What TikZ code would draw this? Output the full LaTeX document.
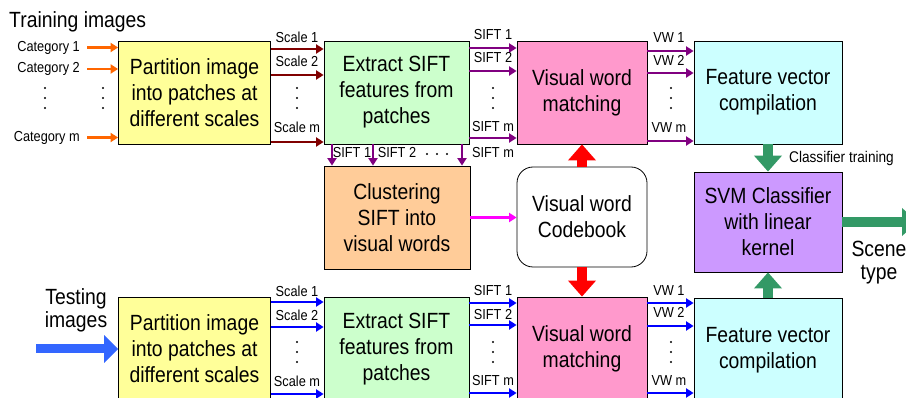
\documentclass[tikz,border=0pt]{standalone}
\usepackage{fontspec}
\setmainfont[FakeStretch=0.88]{Liberation Sans}
\usetikzlibrary{arrows.meta,calc}
\definecolor{cyel}{HTML}{FFFF99}
\definecolor{cgrn}{HTML}{CCFFCC}
\definecolor{cpnk}{HTML}{FF99CC}
\definecolor{ccyn}{HTML}{CCFFFF}
\definecolor{corg}{HTML}{FFCC99}
\definecolor{cvio}{HTML}{CC99FF}
\definecolor{aorg}{HTML}{FF6600}
\definecolor{ared}{HTML}{800000}
\definecolor{apur}{HTML}{800080}
\definecolor{amag}{HTML}{FF00FF}
\definecolor{agrn}{HTML}{339966}
\definecolor{ablu}{HTML}{0000FF}
\definecolor{ablut}{HTML}{3366FF}
\tikzset{
  box/.style={draw=black, line width=0.8pt, inner sep=0pt, align=center,
    font=\fontsize{22}{26}\selectfont},
  thinarr/.style={line width=2.8pt, -{Triangle[length=7.5pt,width=9pt]}},
  fatarr/.style={line width=10pt, -{Triangle[length=16pt,width=27pt]}},
  lab/.style={font=\fontsize{14.5}{15}\selectfont, inner sep=0pt},
  biglab/.style={font=\fontsize{22}{24}\selectfont, inner sep=0pt, align=center},
}
\begin{document}
\begin{tikzpicture}[x=1pt,y=-1pt]
\useasboundingbox (0,0) rectangle (906,398);
% ---- boxes
\node[box, fill=cyel, minimum width=152pt, minimum height=103pt] (yel1) at (194.5,92.5) {Partition image\\into patches at\\different scales};
\node[box, fill=cgrn, minimum width=145pt, minimum height=103pt] (grn1) at (396.5,92.5) {Extract SIFT\\features from\\patches};
\node[box, fill=cpnk, minimum width=130pt, minimum height=103pt] (pnk1) at (582,92.5) {Visual word\\matching};
\node[box, fill=ccyn, minimum width=148pt, minimum height=103pt] (cyn1) at (768,92.5) {Feature vector\\compilation};
\node[box, fill=corg, minimum width=146pt, minimum height=103pt] (clu) at (397,217.5) {Clustering\\SIFT into\\visual words};
\node[box, fill=white, rounded corners=16pt, minimum width=130pt, minimum height=100pt] (cb) at (582,217) {Visual word\\Codebook};
\node[box, fill=cvio, minimum width=148pt, minimum height=100pt] (svm) at (768,222) {SVM Classifier\\with linear\\kernel};
\node[box, fill=cyel, minimum width=152pt, minimum height=104pt] (yel2) at (194.5,349) {Partition image\\into patches at\\different scales};
\node[box, fill=cgrn, minimum width=145pt, minimum height=104pt] (grn2) at (396.5,349) {Extract SIFT\\features from\\patches};
\node[box, fill=cpnk, minimum width=130pt, minimum height=104pt] (pnk2) at (582,349) {Visual word\\matching};
\node[box, fill=ccyn, minimum width=148pt, minimum height=104pt] (cyn2) at (768,350) {Feature vector\\compilation};
% ---- titles
\node[font=\fontsize{22}{24}\selectfont, inner sep=0pt, anchor=base west] (train) at (9,28) {Training images};
\node[biglab, anchor=base] (test) at (76,328) {Testing\\images};
\node[biglab, anchor=base] (scene) at (879,280) {Scene\\type};
\node[font=\fontsize{15.5}{16}\selectfont, inner sep=0pt, anchor=base west] (clstr) at (789,163) {Classifier training};
% ---- category inputs
\node[lab, anchor=base east] (cat1) at (80,52) {Category 1};
\node[lab, anchor=base east] (cat2) at (80,73) {Category 2};
\node[lab, anchor=base east] (catm) at (80,142) {Category m};
\coordinate (c1) at (87,47.5);
\coordinate (c2) at (87,69);
\coordinate (cm) at (87,137.5);
\foreach \c in {c1,c2,cm}
  \draw[thinarr, aorg] (\c) -- (yel1.west |- \c);
\foreach \x in {45,103,297,493,671}
  \foreach \y in {88,98,108}
    \fill (\x,\y) circle (1.2pt);
\foreach \x in {297,493,671}
  \foreach \y in {342,352,362}
    \fill (\x,\y) circle (1.2pt);
% ---- top row small arrows
\foreach \y in {49,75,142}
  \draw[thinarr, ared] (yel1.east |- 0,\y) -- (grn1.west |- 0,\y);
\foreach \y in {48,71,138}
  \draw[thinarr, apur] (grn1.east |- 0,\y) -- (pnk1.west |- 0,\y);
\foreach \y in {51,73,141}
  \draw[thinarr, apur] (pnk1.east |- 0,\y) -- (cyn1.west |- 0,\y);
\node[lab, anchor=base] (ts1) at (297,43) {Scale 1};
\node[lab, anchor=base] (ts2) at (297,67) {Scale 2};
\node[lab, anchor=base] (tsm) at (297,133) {Scale m};
\node[lab, anchor=base] (tf1) at (493,40) {SIFT 1};
\node[lab, anchor=base] (tf2) at (493,63) {SIFT 2};
\node[lab, anchor=base] (tfm) at (493,132) {SIFT m};
\node[lab, anchor=base] (tv1) at (669,43) {VW 1};
\node[lab, anchor=base] (tv2) at (669,66) {VW 2};
\node[lab, anchor=base] (tvm) at (669,133) {VW m};
% ---- down arrows to clustering
\foreach \x in {332,373,462}
  \draw[thinarr, apur] (grn1.south -| \x,0) -- (clu.north -| \x,0);
\node[lab, anchor=base] (df1) at (352,158) {SIFT 1};
\node[lab, anchor=base] (df2) at (397,158) {SIFT 2};
\node[lab, anchor=base] (dfm) at (493,158) {SIFT m};
\foreach \x in {427,437,447}
  \fill (\x,154) circle (1.2pt);
% ---- clustering to codebook
\draw[thinarr, amag] (clu.east) -- (clu.east -| cb.west);
% ---- fat arrows
\draw[fatarr, red] (cb.north) -- (pnk1.south);
\draw[fatarr, red] (cb.south) -- (pnk2.north);
\draw[fatarr, agrn] (cyn1.south) -- (svm.north);
\draw[fatarr, agrn] (cyn2.north) -- (svm.south);
\coordinate (tip) at (918,222);
\draw[fatarr, agrn] (svm.east) -- (tip);
\coordinate (tstart) at (36,349);
\draw[line width=9pt, ablut, -{Triangle[length=14pt,width=27pt]}] (tstart) -- (yel2.west |- tstart);
% ---- bottom row small arrows
\foreach \y in {302,327,394}
  \draw[thinarr, ablu] (yel2.east |- 0,\y) -- (grn2.west |- 0,\y);
\foreach \y in {303,325,393}
  \draw[thinarr, ablu] (grn2.east |- 0,\y) -- (pnk2.west |- 0,\y);
\foreach \y in {303,326,393}
  \draw[thinarr, ablu] (pnk2.east |- 0,\y) -- (cyn2.west |- 0,\y);
\node[lab, anchor=base] (bs1) at (297,297) {Scale 1};
\node[lab, anchor=base] (bs2) at (297,321) {Scale 2};
\node[lab, anchor=base] (bsm) at (297,387) {Scale m};
\node[lab, anchor=base] (bf1) at (493,296) {SIFT 1};
\node[lab, anchor=base] (bf2) at (493,320) {SIFT 2};
\node[lab, anchor=base] (bfm) at (493,385) {SIFT m};
\node[lab, anchor=base] (bv1) at (669,296) {VW 1};
\node[lab, anchor=base] (bv2) at (669,318) {VW 2};
\node[lab, anchor=base] (bvm) at (669,385) {VW m};
\end{tikzpicture}
\end{document}
